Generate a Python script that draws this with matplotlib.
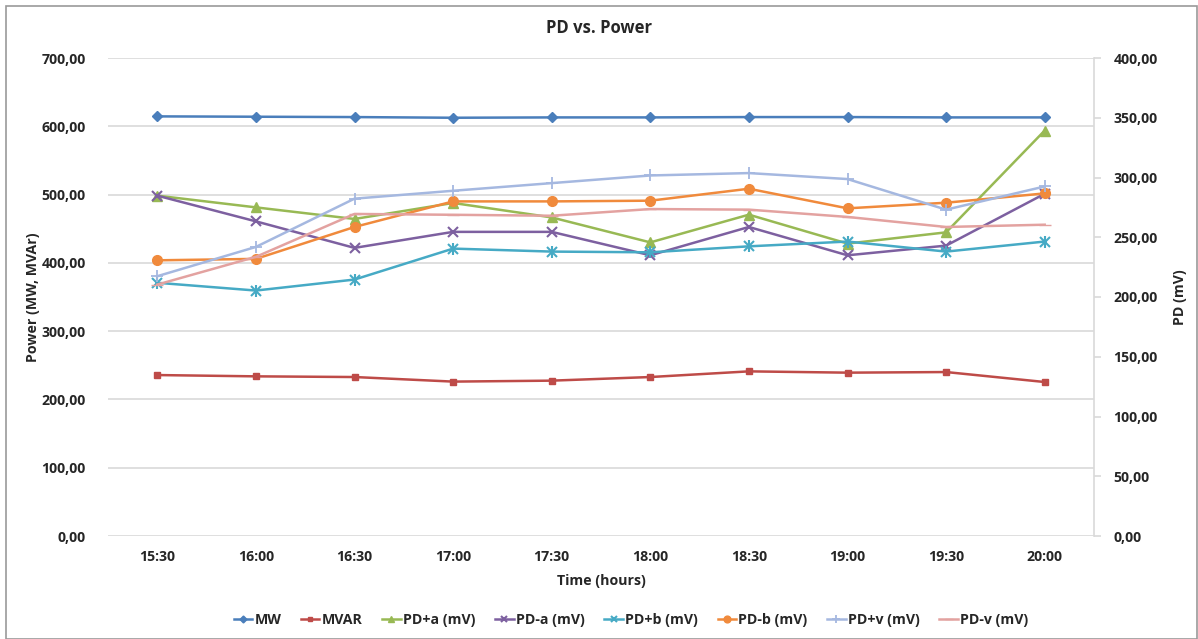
import matplotlib
matplotlib.use("Agg")
import matplotlib.pyplot as plt
from matplotlib.patches import Rectangle

times = ["15:30", "16:00", "16:30", "17:00", "17:30", "18:00", "18:30", "19:00", "19:30", "20:00"]

mw = [614.5, 614.0, 613.5, 612.5, 613.0, 613.0, 613.5, 613.5, 613.0, 613.0]
mvar = [235.7, 233.8, 232.8, 226.1, 227.5, 232.8, 241.1, 239.2, 240.1, 225.5]

pd_pa = [284.8, 275.0, 265.3, 278.7, 266.6, 245.7, 268.9, 244.7, 254.1, 339.3]
pd_ma = [284.8, 263.3, 241.1, 254.5, 254.5, 234.9, 258.6, 234.9, 243.0, 286.4]
pd_pb = [211.9, 205.4, 214.6, 240.5, 238.0, 237.4, 242.4, 246.4, 238.0, 246.4]
pd_mb = [230.7, 231.9, 258.6, 280.0, 280.0, 280.6, 290.6, 274.2, 278.9, 286.7]
pd_pv = [217.4, 241.9, 282.3, 288.9, 295.3, 301.7, 303.7, 298.7, 273.1, 292.5]
pd_mv = [210.4, 233.6, 269.5, 268.8, 268.0, 273.6, 273.1, 267.0, 258.6, 260.5]

left_ticks = [0, 100, 200, 300, 400, 500, 600, 700]
right_ticks = [0, 50, 100, 150, 200, 250, 300, 350, 400]

plt.rcParams['font.family'] = ['Open Sans', 'DejaVu Sans']

fig = plt.figure(figsize=(11.98, 6.39), dpi=100)
fig.patches.append(Rectangle((6/1198, 0), 1 - 7/1198, 1 - 6/639, transform=fig.transFigure,
                             fill=False, edgecolor='#9a9a9a', linewidth=1.2))

ax = fig.add_axes([108/1198, 1 - 536/639, 986/1198, 478/639])
ax2 = ax.twinx()

x = list(range(len(times)))

ax.set_ylim(0, 700)
ax.set_yticks(left_ticks)
ax.set_yticklabels([f"{v:.2f}".replace('.', ',') for v in left_ticks])
ax2.set_ylim(0, 400)
ax2.set_yticks(right_ticks)
ax2.set_yticklabels([f"{v:.2f}".replace('.', ',') for v in right_ticks])
ax.set_xlim(-0.5, len(times) - 0.5)
ax.set_xticks(x)
ax.set_xticklabels(times)

ax.grid(axis='y', color='#d9d9d9', linewidth=1.2)
ax.set_axisbelow(True)
for a in (ax, ax2):
    for s in ('top', 'left', 'bottom', 'right'):
        a.spines[s].set_visible(False)
ax2.spines['right'].set_visible(True)
ax2.spines['right'].set_color('#d9d9d9')
ax2.spines['right'].set_linewidth(1.2)

ax.tick_params(axis='y', length=0, pad=16, labelsize=10.2)
ax.tick_params(axis='x', length=0, pad=10, labelsize=10.2)
ax2.tick_params(axis='y', length=5, color='#d9d9d9', width=1.2, pad=9, labelsize=10.2)
for lbl in ax.get_xticklabels() + ax.get_yticklabels() + ax2.get_yticklabels():
    lbl.set_fontweight('bold')
    lbl.set_color('#262626')

lw = 1.8
h = []
h += ax.plot(x, mw, color='#4A7EBB', lw=lw, marker='D', ms=5, label='MW')
h += ax.plot(x, mvar, color='#BE4B48', lw=lw, marker='s', ms=5, label='MVAR')
h += ax2.plot(x, pd_pa, color='#98B954', lw=lw, marker='^', ms=7, label='PD+a (mV)')
h += ax2.plot(x, pd_ma, color='#7D60A0', lw=lw, marker='x', ms=7, mew=1.5, label='PD-a (mV)')
l_pb = ax2.plot(x, pd_pb, color='#46AAC5', lw=lw, marker='x', ms=7, mew=1.5, label='PD+b (mV)')
ax2.plot(x, pd_pb, color='#46AAC5', lw=0, marker='|', ms=8, mew=1.5)
h += l_pb
h += ax2.plot(x, pd_mb, color='#F08A3C', lw=lw, marker='o', ms=7, label='PD-b (mV)')
h += ax2.plot(x, pd_pv, color='#A5B8E0', lw=lw, marker='+', ms=8, mew=1.3, label='PD+v (mV)')
h += ax2.plot(x, pd_mv, color='#E3A2A0', lw=lw, marker='_', ms=8, label='PD-v (mV)')

ax.set_ylabel('Power (MW, MVAr)', fontsize=10.2, fontweight='bold', color='#262626')
ax.yaxis.set_label_coords((40 - 108) / 986, 0.5)
ax2.set_ylabel('PD (mV)', fontsize=10.2, fontweight='bold', color='#262626')
ax2.yaxis.set_label_coords((1173 - 108) / 986, 0.5)
ax.set_xlabel('Time (hours)', fontsize=10.2, fontweight='bold', color='#262626')
ax.xaxis.set_label_coords(0.5, (536 - 574) / 478)
fig.suptitle('PD vs. Power', y=1 - 28/639, va='center', fontsize=12, fontweight='bold', color='#262626')

leg = fig.legend(handles=h, loc='center', bbox_to_anchor=(631/1198, 1 - 620/639), ncol=8, frameon=False,
                 handlelength=1.3, handletextpad=0.15, columnspacing=1.4, markerscale=0.7,
                 prop={'weight': 'bold', 'size': 10.2})
for t in leg.get_texts():
    t.set_color('#262626')

fig.savefig('out.png', dpi=100)
